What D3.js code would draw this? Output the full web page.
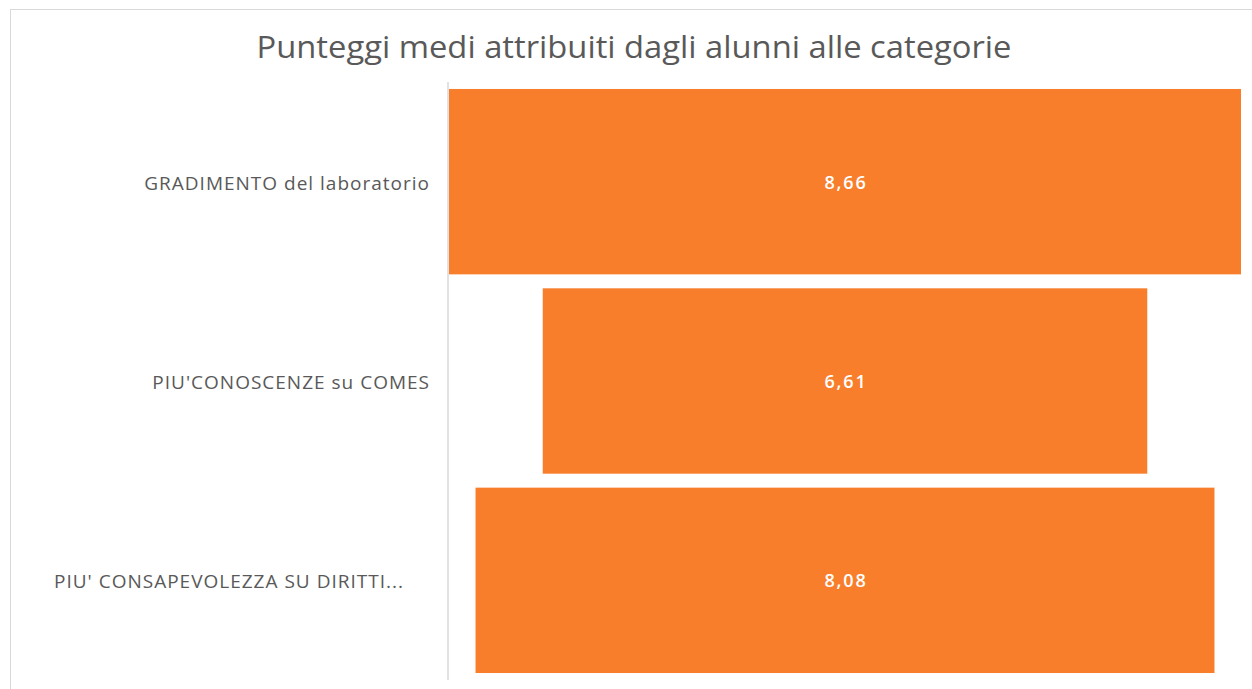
<!DOCTYPE html>
<html>
<head>
<meta charset="utf-8">
<script src="https://cdn.jsdelivr.net/npm/d3@7"></script>
<style>
  body { margin: 0; background: #fff; }
  .catLabel { font-family: "Open Sans", "Noto Sans", sans-serif; font-size: 19px; fill: #595959; letter-spacing: 1px; }
  .valLabel { font-family: "Open Sans", "Noto Sans", sans-serif; font-size: 18px; font-weight: 600; fill: #fff; letter-spacing: 1.8px; }
  .title { font-family: "Liberation Sans Narrow", "Open Sans", sans-serif; font-size: 31px; fill: #595959; }
</style>
</head>
<body>
<div id="chart"></div>
<script>
// chart data
var categories = ["GRADIMENTO del laboratorio", "PIU'CONOSCENZE su COMES", "PIU' CONSAPEVOLEZZA SU DIRITTI..."];
var values = [8.66, 6.61, 8.08];
var chartTitle = "Punteggi medi attribuiti dagli alunni alle categorie";

var width = 1252;
var height = 689;

// plot area
var plotTop = 82;
var plotBottom = 680;
var axisX = 448;
var centerX = 845;
var maxBarWidth = 792;

var svg = d3.select("#chart")
  .append("svg")
  .attr("width", width)
  .attr("height", height);

// outer frame of the chart
svg.append("rect")
  .attr("x", 10.5)
  .attr("y", 9.5)
  .attr("width", width)
  .attr("height", height)
  .attr("fill", "none")
  .attr("stroke", "#d9d9d9");

svg.append("text")
  .attr("class", "title")
  .attr("x", 634)
  .attr("y", 58)
  .attr("text-anchor", "middle")
  .attr("textLength", 755)
  .attr("lengthAdjust", "spacingAndGlyphs")
  .text(chartTitle);

var yScale = d3.scaleBand()
  .domain(categories)
  .range([plotTop, plotBottom])
  .paddingInner(0.07)
  .paddingOuter(0.035);

var xScale = d3.scaleLinear()
  .domain([0, d3.max(values)])
  .range([0, maxBarWidth]);

var fmt = d3.formatLocale({ decimal: ",", thousands: ".", grouping: [3], currency: ["", "€"] }).format(".2f");

// vertical category axis line
svg.append("line")
  .attr("x1", axisX)
  .attr("x2", axisX)
  .attr("y1", plotTop)
  .attr("y2", plotBottom)
  .attr("stroke", "#d9d9d9")
  .attr("stroke-width", 1.5);

var rows = categories.map(function(c, i) { return { cat: c, val: values[i] }; });

svg.selectAll("rect.bar")
  .data(rows)
  .enter()
  .append("rect")
  .attr("class", "bar")
  .attr("x", function(d) { return centerX - xScale(d.val) / 2; })
  .attr("y", function(d) { return yScale(d.cat); })
  .attr("width", function(d) { return xScale(d.val); })
  .attr("height", yScale.bandwidth())
  .attr("fill", "#f87e2b");

svg.selectAll("text.valLabel")
  .data(rows)
  .enter()
  .append("text")
  .attr("class", "valLabel")
  .attr("x", centerX + 1)
  .attr("y", function(d) { return yScale(d.cat) + yScale.bandwidth() / 2 + 7; })
  .attr("text-anchor", "middle")
  .text(function(d) { return fmt(d.val); });

// category labels (the truncated one sits left-aligned like in Excel)
svg.selectAll("text.catLabel")
  .data(rows)
  .enter()
  .append("text")
  .attr("class", "catLabel")
  .attr("x", function(d) { return d.cat.slice(-3) === "..." ? 54 : 430; })
  .attr("y", function(d) { return yScale(d.cat) + yScale.bandwidth() / 2 + 8; })
  .attr("text-anchor", function(d) { return d.cat.slice(-3) === "..." ? "start" : "end"; })
  .text(function(d) { return d.cat; });
</script>
</body>
</html>
